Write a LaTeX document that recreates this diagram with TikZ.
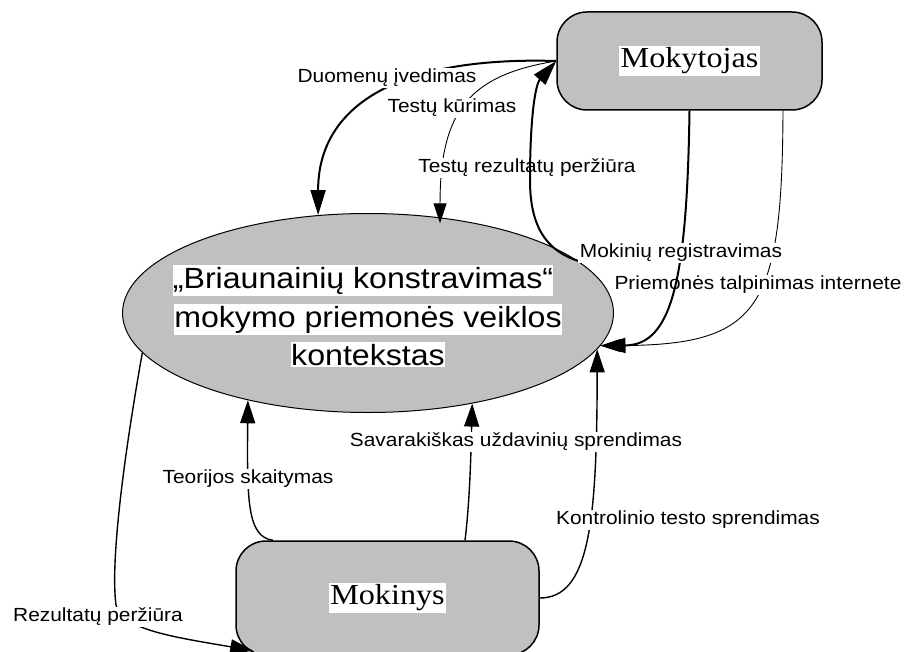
\documentclass[tikz,border=0pt]{standalone}
\usepackage{fontspec}
\usepackage{graphicx}
\setmainfont{Liberation Sans}
\newfontfamily\boxfont{Liberation Serif}
\usetikzlibrary{arrows.meta,shapes.geometric}
\definecolor{shade}{HTML}{C0C0C0}
% slightly widened lettering
\newcommand\widen[1]{\scalebox{1.1}[1]{#1}}
\newcommand\actortext[1]{{\setlength{\fboxsep}{1.5pt}\colorbox{white}{\scalebox{1.11}[1]{#1}}}}
\tikzset{
  actor/.style={draw, line width=1.5pt, fill=shade, rounded corners=30pt, inner sep=0pt,
    font=\boxfont\fontsize{29}{34}\selectfont},
  context/.style={draw, line width=1pt, fill=shade, ellipse, inner sep=0pt},
  ctxline/.style={fill=white, inner xsep=0pt, inner ysep=2pt, anchor=base,
    font=\fontsize{29.2}{34}\selectfont},
  flowlabel/.style={fill=white, inner sep=1.5pt, font=\fontsize{19}{23}\selectfont},
  heavy/.style={line width=2pt, -{Triangle[length=25pt,width=15pt]}},
  medium/.style={line width=1.4pt, -{Triangle[length=23pt,width=15pt]}},
  light/.style={line width=0.9pt, -{Triangle[length=20pt,width=13pt]}},
}
\begin{document}
\begin{tikzpicture}[x=1pt, y=-1pt]
\useasboundingbox (0,0) rectangle (907,652);
\clip (0,0) rectangle (907,652);
\fill[white] (0,0) rectangle (907,652);

% actors and the activity context
\node[context, minimum width=491pt, minimum height=199pt] (ctx) at (368,313) {};
\node[ctxline] (t1) at (363,288) {\widen{„Briaunainių konstravimas“}};
\node[ctxline] (t2) at (368,327) {\widen{mokymo priemonės veiklos}};
\node[ctxline] (t3) at (368,365) {\widen{kontekstas}};

\node[actor, minimum width=265pt, minimum height=98pt] (mt) at (689.5,61) {\actortext{Mokytojas}};
\node[actor, minimum width=303pt, minimum height=114pt] (mn) at (387.5,598) {\actortext{Mokinys}};

% teacher flows
\draw[heavy] (mt.west) .. controls (390,56) and (318,110) .. (ctx.117);
\node[flowlabel] (l1) at (387,78) {\widen{Duomenų įvedimas}};
\draw[light] (mt.west) .. controls (470,75) and (440,110) .. ([yshift=-6pt]ctx.53);
\node[flowlabel] (l2) at (452,108) {\widen{Testų kūrimas}};
\node[flowlabel] (l3) at (527,168) {\widen{Testų rezultatų peržiūra}};
\draw[heavy] (ctx.14) .. controls (545,250) and (530,225) .. (530,180)
  .. controls (530,120) and (535,85) .. (mt.west);
\draw[light] ([xshift=93.5pt]mt.south) .. controls (782,310) and (760,345) .. (ctx.-8);
\node[flowlabel] (l5) at (758,285) {\widen{Priemonės talpinimas internete}};
\draw[heavy] (mt.south) .. controls (687,280) and (672,345) .. (ctx.-8);
\node[flowlabel] (l4) at (681,253) {\widen{Mokinių registravimas}};

% learner flows
\draw[medium] (mn.east) .. controls (590,598) and (597,520) .. (ctx.-9);
\node[flowlabel] (l6) at (688,520) {\widen{Kontrolinio testo sprendimas}};
\draw[medium] ([xshift=77.5pt]mn.north) .. controls (470,500) and (471,450) .. (ctx.-41);
\node[flowlabel] (l7) at (516,442) {\widen{Savarakiškas uždavinių sprendimas}};
\draw[medium] ([xshift=-114.5pt]mn.north) .. controls (247,537) and (247,500) .. (ctx.-144);
\node[flowlabel] (l8) at (248,479) {\widen{Teorijos skaitymas}};
\draw[medium] (ctx.190) .. controls (125,450) and (110,560) .. (116,605)
  .. controls (120,630) and (180,638) .. ([shift={(18,-5)}]mn.south west);
\node[flowlabel] (l9) at (98,617) {\widen{Rezultatų peržiūra}};
\end{tikzpicture}
\end{document}
